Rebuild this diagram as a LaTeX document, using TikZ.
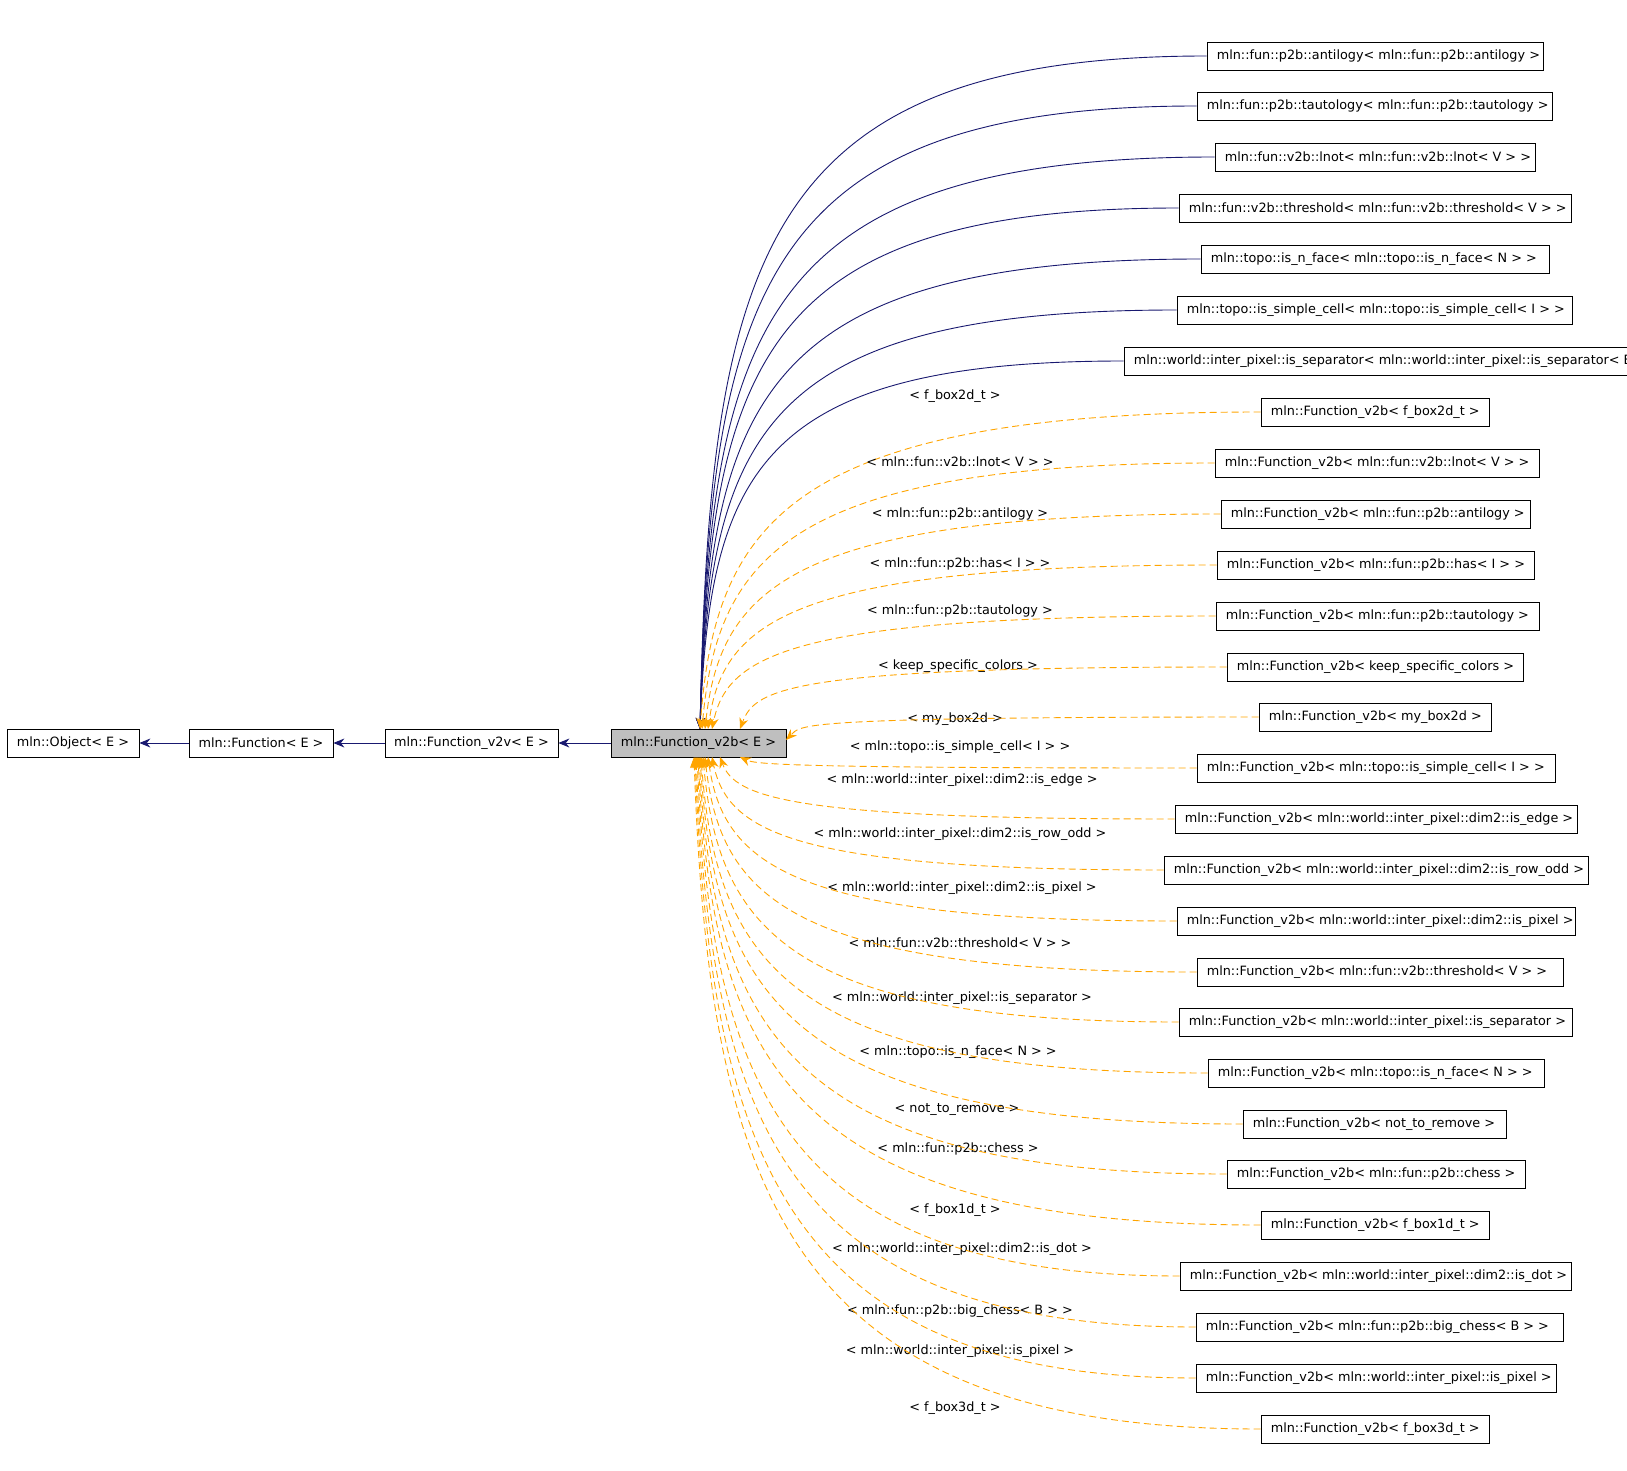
\documentclass[tikz,border=0pt]{standalone}
\usepackage{fontspec}
\setmainfont{DejaVu Sans}
\usetikzlibrary{arrows.meta}
\definecolor{navy}{HTML}{191970}
\definecolor{orng}{HTML}{FFA500}
\begin{document}
\begin{tikzpicture}[x=1pt,y=-1pt,font=\fontsize{12.8}{14}\selectfont,
  box/.style={draw,line width=0.8pt,minimum height=28pt,inner sep=0pt},
  inh/.style={navy,line width=0.9pt,-{Stealth[length=11pt,width=9pt]}},
  tpl/.style={orng,line width=0.9pt,dash pattern=on 7pt off 4pt,-{Stealth[length=11pt,width=9pt]}}]
\useasboundingbox (0,0) rectangle (1627,1471);
\fill[white] (0,0) rectangle (1627,1471);
\node[box,minimum width=132pt] (obj) at (73,743) {mln::Object< E >};
\node[box,minimum width=144pt] (fun) at (261,743) {mln::Function< E >};
\node[box,minimum width=173pt] (v2v) at (471.5,743) {mln::Function\_v2v< E >};
\node[box,minimum width=175pt,fill=black!25] (v2b) at (698.5,743) {mln::Function\_v2b< E >};
\draw[inh] (fun) -- (obj);
\draw[inh] (v2v) -- (fun);
\draw[inh] (v2b) -- (v2v);
\foreach \n/\a/\b/\y/\t in {
 c1/1207/1543/56/{mln::fun::p2b::antilogy< mln::fun::p2b::antilogy >},
 c2/1197/1552/106/{mln::fun::p2b::tautology< mln::fun::p2b::tautology >},
 c3/1215/1535/157/{mln::fun::v2b::lnot< mln::fun::v2b::lnot< V > >},
 c4/1179/1571/208/{mln::fun::v2b::threshold< mln::fun::v2b::threshold< V > >},
 c5/1201/1549/259/{mln::topo::is\_n\_face< mln::topo::is\_n\_face< N > >},
 c6/1177/1572/310/{mln::topo::is\_simple\_cell< mln::topo::is\_simple\_cell< I > >},
 c7/1124/1640/361/{mln::world::inter\_pixel::is\_separator< mln::world::inter\_pixel::is\_separator< E > >}}{
  \pgfmathsetmacro\w{\b-\a}
  \node[box,minimum width=\w pt] (\n) at ({(\a+\b)/2},\y) {};
  \node[anchor=west,inner sep=0pt] at ([xshift=10pt]\n.west) {\t};
  \pgfmathsetmacro\cy{\y+(729-\y)*0.3}
  \draw[inh] (\n.west) .. controls (760,\y) and (710,\cy) .. (700,729);
}
\foreach \n/\a/\b/\y/\t/\lx/\ly/\tx/\ty in {
 d1/1261/1489/412/{f\_box2d\_t}/955/396/700/729,
 d2/1215/1539/463/{mln::fun::v2b::lnot< V >}/960/462/702/729,
 d3/1221/1530/514/{mln::fun::p2b::antilogy}/960/514/705/729,
 d4/1217/1534/565/{mln::fun::p2b::has< I >}/960/564/708/729,
 d5/1216/1539/616/{mln::fun::p2b::tautology}/960/611/712/729,
 d6/1227/1523/667/{keep\_specific\_colors}/958/666/740/729,
 d7/1259/1491/717/{my\_box2d}/955/719/786/740,
 d8/1197/1555/768/{mln::topo::is\_simple\_cell< I >}/960/747/740/757,
 d9/1175/1577/819/{mln::world::inter\_pixel::dim2::is\_edge}/962/780/720/757,
 d10/1164/1588/870/{mln::world::inter\_pixel::dim2::is\_row\_odd}/960/834/712/757,
 d11/1177/1575/921/{mln::world::inter\_pixel::dim2::is\_pixel}/962/888/708/757,
 d12/1197/1563/972/{mln::fun::v2b::threshold< V >}/960/943/705/757,
 d13/1179/1572/1022/{mln::world::inter\_pixel::is\_separator}/962/998/703/757,
 d14/1208/1544/1073/{mln::topo::is\_n\_face< N >}/958/1052/701/757,
 d15/1243/1506/1124/{not\_to\_remove}/957/1110/700/757,
 d16/1227/1525/1174/{mln::fun::p2b::chess}/958/1149/699/757,
 d17/1261/1489/1225/{f\_box1d\_t}/955/1210/698/757,
 d18/1180/1571/1276/{mln::world::inter\_pixel::dim2::is\_dot}/962/1249/697/757,
 d19/1196/1563/1327/{mln::fun::p2b::big\_chess< B >}/960/1311/696/757,
 d20/1196/1556/1378/{mln::world::inter\_pixel::is\_pixel}/960/1351/695/757,
 d21/1261/1489/1429/{f\_box3d\_t}/955/1408/694/757}{
  \pgfmathsetmacro\w{\b-\a}
  \node[box,minimum width=\w pt] (\n) at ({(\a+\b)/2},\y) {};
  \node[anchor=west,inner sep=0pt] at ([xshift=10pt]\n.west) {mln::Function\_v2b< \t{} >};
  \node at (\lx,\ly) {< \t{} >};
  \pgfmathsetmacro\cy{\y+(\ty-\y)*0.35}
  \pgfmathsetmacro\cx{\tx+15}
  \draw[tpl] (\n.west) .. controls (790,\y) and (\cx,\cy) .. (\tx,\ty);
}
\end{tikzpicture}
\end{document}
